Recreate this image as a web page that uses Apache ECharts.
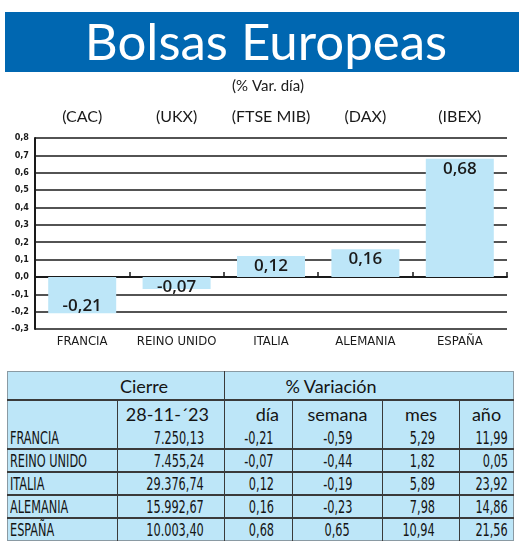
<!DOCTYPE html>
<html>
<head>
<meta charset="utf-8">
<script src="https://cdn.jsdelivr.net/npm/echarts@6/dist/echarts.min.js"></script>
<style>
  body { margin: 0; background: #fff; }
  #chart { position: absolute; left: 0; top: 0; width: 520px; height: 362px; }
  #tabla {
    position: absolute; left: 7px; top: 371px; width: 506px;
    border-collapse: collapse; background: #bde6f8;
    border: 1px solid #8a9aa3; color: #141414;
    font-family: 'DejaVu Sans Condensed', 'DejaVu Sans', sans-serif;
    font-size: 17px; table-layout: fixed;
  }
  #tabla td { padding: 0; white-space: nowrap; overflow: visible; }
  #tabla tr.h1 td { height: 27px; font-family: Lato, 'Open Sans', sans-serif; font-size: 18px; border-bottom: 2px solid #3a3a3a; }
  #tabla tr.h2 td { height: 26px; font-family: Lato, 'Open Sans', sans-serif; font-size: 18px; }
  #tabla tr.d td { height: 21px; border-bottom: 2px solid #3a3a3a; }
  #tabla tr.d:last-child td { border-bottom: none; }
  #tabla .v { border-left: 1px solid #3a3a3a; }
  /* texto estrecho */
  #tabla span.n { display: inline-block; transform: scaleX(0.74); }
  #tabla span.l { transform-origin: left center; }
  #tabla span.r { transform-origin: right center; }
  #tabla span.c { transform-origin: center center; }
</style>
</head>
<body>
<div id="chart"></div>
<table id="tabla"></table>
<script>
// datos del gráfico (% var. día)
const paises = ['FRANCIA', 'REINO UNIDO', 'ITALIA', 'ALEMANIA', 'ESPAÑA']
const indices = ['(CAC)', '(UKX)', '(FTSE MIB)', '(DAX)', '(IBEX)']
const varDia = [-0.21, -0.07, 0.12, 0.16, 0.68]

// datos de la tabla
const fechaCierre = '28-11-´23'
const cierre = ['7.250,13', '7.455,24', '29.376,74', '15.992,67', '10.003,40']
const varSemana = ['-0,59', '-0,44', '-0,19', '-0,23', '0,65']
const varMes = ['5,29', '1,82', '5,89', '7,98', '10,94']
const varAnio = ['11,99', '0,05', '23,92', '14,86', '21,56']

const coma = (v, d) => v.toFixed(d).replace('.', ',')

const chart = echarts.init(document.getElementById('chart'))
const option = {
    animation: false,
    graphic: [{
        type: 'rect',
        shape: { x: 5, y: 12, width: 514, height: 60 },
        style: { fill: '#0067b1' }
    }, {
        type: 'text',
        x: 266, y: 44,
        style: {
            text: 'Bolsas Europeas', fill: '#fff',
            font: '51px Lato, "Open Sans", sans-serif',
            textAlign: 'center', textVerticalAlign: 'middle'
        }
    }, {
        type: 'text',
        x: 268, y: 86,
        style: {
            text: '(% Var. día)', fill: '#1a1a1a',
            font: '15px Lato, "Open Sans", sans-serif',
            textAlign: 'center', textVerticalAlign: 'middle'
        }
    }],
    grid: { left: 35, right: 13, top: 138, bottom: 33 },
    xAxis: [{ // nombres de países abajo
        type: 'category',
        data: paises,
        position: 'bottom',
        axisLine: { show: false, onZero: false },
        axisTick: { show: false },
        axisLabel: {
            interval: 0, margin: 6, color: '#1a1a1a', fontSize: 13,
            fontFamily: "'DejaVu Sans Condensed', sans-serif"
        }
    }, { // índices arriba
        type: 'category',
        data: indices,
        position: 'top',
        axisLine: { show: false, onZero: false },
        axisTick: { show: false },
        axisLabel: {
            interval: 0, margin: 13, color: '#1a1a1a', fontSize: 16,
            fontFamily: "Lato, 'Open Sans', sans-serif"
        }
    }, { // línea del cero con marcas
        type: 'category',
        data: paises,
        position: 'top',
        axisLine: { onZero: true, lineStyle: { color: '#1a1a1a', width: 2 } },
        axisTick: { show: true, interval: 0, length: 5, lineStyle: { color: '#1a1a1a', width: 1.5 } },
        axisLabel: { show: false }
    }],
    yAxis: {
        type: 'value',
        min: -0.3, max: 0.8, interval: 0.1,
        axisLine: { show: true, lineStyle: { color: '#1a1a1a', width: 2 } },
        axisTick: { show: false },
        splitLine: { lineStyle: { color: '#1a1a1a', width: 1.5 } },
        axisLabel: {
            margin: 6, color: '#1a1a1a', fontSize: 9, fontWeight: 'bold',
            fontFamily: "'DejaVu Sans Condensed', sans-serif",
            formatter: v => coma(v, 1)
        }
    },
    series: [{
        type: 'bar',
        xAxisIndex: 0,
        barWidth: 68,
        itemStyle: { color: '#bde6f8' },
        label: {
            show: true, color: '#1a1a1a', fontSize: 17, fontWeight: 600,
            fontFamily: "'Open Sans', Lato, sans-serif",
            formatter: p => coma(p.value, 2)
        },
        data: varDia.map(v => ({
            value: v,
            label: v >= 0
                ? { position: 'insideTop', distance: 2 }
                : { position: 'insideBottom', distance: 0, offset: [0, Math.abs(v) < 0.1 ? 7 : 1] }
        }))
    }]
}
chart.setOption(option)

// tabla de cierres
const tabla = document.getElementById('tabla')
const anchos = [110, 107, 68, 90, 77, 54]
const n = (t, a) => '<span class="n ' + a + '">' + t + '</span>'
let html = '<colgroup>' + anchos.map(w => '<col style="width:' + w + 'px">').join('') + '</colgroup>'
html += '<tr class="h1"><td colspan="2" style="text-align:center;padding-left:56px">Cierre</td>' +
    '<td colspan="4" class="v" style="text-align:center;padding-right:76px">% Variación</td></tr>'
html += '<tr class="h2"><td></td>' +
    '<td class="v" style="text-align:right;padding-right:15px">' + fechaCierre + '</td>' +
    '<td class="v" style="text-align:right;padding-right:13px">día</td>' +
    '<td class="v" style="text-align:center">semana</td>' +
    '<td class="v" style="text-align:center">mes</td>' +
    '<td class="v" style="text-align:center">año</td></tr>'
paises.forEach((p, i) => {
    html += '<tr class="d"><td style="padding-left:2px">' + n(p, 'l') + '</td>' +
        '<td class="v" style="text-align:right;padding-right:20px">' + n(cierre[i], 'r') + '</td>' +
        '<td class="v" style="text-align:right;padding-right:18px">' + n(coma(varDia[i], 2), 'r') + '</td>' +
        '<td class="v" style="text-align:center">' + n(varSemana[i], 'c') + '</td>' +
        '<td class="v" style="text-align:right;padding-right:24px">' + n(varMes[i], 'r') + '</td>' +
        '<td class="v" style="text-align:right;padding-right:5px">' + n(varAnio[i], 'r') + '</td></tr>'
})
tabla.innerHTML = html
</script>
</body>
</html>
